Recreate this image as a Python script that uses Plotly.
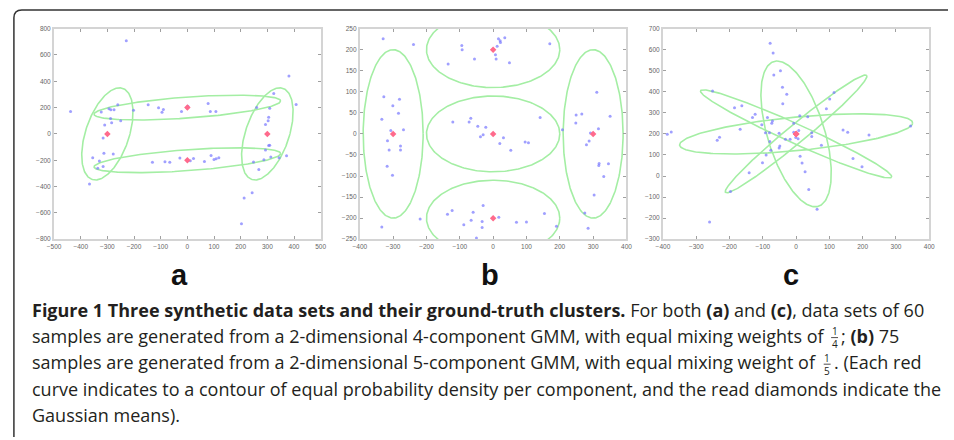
import numpy as np
import plotly.graph_objects as go

W, H = 954, 440

# ---------------- data ----------------
# Panel a
A_X = [-438, -229, -323, -294, -287, -275, -261, -288, -284, -250, -310, -316, -313, -278, -355, -330, -316, -336, -367,
       -202, -147, -108, -90, -95, -22, 2, -1, 78, 86, 107,
       -131, -84, -66, -28, 11, 23, 64, 89, 100, 108, 118,
       260, 309, 305, 303, 324, 381, 408, 293, 305, 309, 293, 313, 287, 344, 372, 248, 268, 243, 213, 203]
A_Y = [171, 708, 166, 191, 184, 184, 221, 117, 84, 99, 67, -32, -147, -152, -181, -206, -248, -261, -380,
       179, 221, 199, 186, 164, 171, 211, 196, 231, 171, 171,
       -216, -211, -216, -184, -204, -186, -209, -164, -194, -189, -181,
       201, 194, 127, 99, 306, 440, 224, 72, -89, -87, -122, -176, -196, -181, -166, -214, -271, -447, -487, -683]
A_MX = [-300, 300, 0, 0]
A_MY = [0, 0, 200, -200]
# ellipse: centre + L-matrix [l11, l12, l21, l22]
A_EL = [(-300, 0, 85, 45, 0, 350), (300, 0, 85, 46, 0, 350),
        (0, 200, 350, 0, 50, 80), (0, -200, 350, 0, 50, 80)]

# Panel b
B_X = [-330, -239, -94, -93, -56, -135, 16, 21, 22, 35, 12, 7, 9, 49, 170,
       -328, -281, -301, -284, -334, -307, -269, -317, -312, -278, -278, -318, -302, -334, -219,
       -121, -72, -67, -46, -22, -30, -38, 31, 20, 53, 96, 106, 141,
       208, 249, 266, 248, 311, 316, 351, 292, 288, 280, 318, 317, 346, 332, 303, 275, 285,
       -137, -123, -88, -60, -66, -30, -33, -33, -50, 17, 70, 100, 154, 190]
B_Y = [226, 212, 210, 200, 178, 166, 226, 221, 217, 228, 208, 188, 178, 169, 214,
       88, 82, 67, 49, 35, 8, 10, -16, -38, -29, -38, -77, -98, -221, -202,
       28, 28, 37, 18, 16, -2, -7, -9, -23, -39, -19, -21, 39,
       10, 45, 47, 26, 99, 12, 42, 2, -17, -26, -70, -75, -71, -101, -145, -188, -224,
       -191, -182, -216, -186, -205, -170, -208, -222, -247, -198, -210, -209, -189, -219]
B_MX = [-300, 300, 0, 0, 0]
B_MY = [0, 0, 0, 200, -200]
B_EL = [(-300, 0, 90, 0, 0, 200), (300, 0, 90, 0, 0, 200), (0, 0, 200, 0, 0, 90),
        (0, 200, 200, 0, 0, 90), (0, -200, 200, 0, 0, 90)]

# Panel c
C_X = [-387, -375, -251, -237, -230, -185, -163, -168, -131, -123, -141, -197, -260,
       -78, -69, -67, -47, -41, -28, -40, -103, -86, -73, -71, -92, -80, -51, -79, -90, -101, -76, -49, -51,
       -32, -18, -7, -1, 8, 6, 11, -7, 35, 47, 47, 12, 18, 27, 38, 63, 76, 91, 101, 114, 141, 155, 171, 198, 219, 344]
C_Y = [198, 209, 404, 170, 184, 324, 334, 222, 278, 293, 15, -74, -218,
       631, 584, 480, 500, 421, 388, 343, 244, 278, 251, 261, 206, 206, 203, 164, 100, 63, 122, 142, 133,
       175, 175, 208, 183, 216, 177, 286, 250, 282, 205, 188, 94, 62, 20, -64, -158, 146, 320, 366, 396, 219, 208, 83, 44, 195, 237]
C_MX = [0, 0, 0, 0]
C_MY = [200, 200, 200, 200]
C_EL = [(0, 200, 350, 0, 52, 80), (0, 200, 287, 12, -205, 42),
        (0, 200, 212, 18, 278, -33), (0, 200, -57, 89, 346, 0)]

PANELS = [
    dict(x=A_X, y=A_Y, mx=A_MX, my=A_MY, el=A_EL, xr=[-500, 500], yr=[-800, 800], dx=100, dy=200, label="a"),
    dict(x=B_X, y=B_Y, mx=B_MX, my=B_MY, el=B_EL, xr=[-400, 400], yr=[-250, 250], dx=100, dy=50, label="b"),
    dict(x=C_X, y=C_Y, mx=C_MX, my=C_MY, el=C_EL, xr=[-400, 400], yr=[-300, 700], dx=100, dy=100, label="c"),
]

# ---------------- layout geometry (pixels) ----------------
PLOT_X = [(47.7, 318.0), (357.7, 628.0), (665.0, 935.0)]
PLOT_Y = (25.0, 239.0)
LABEL_X = [175, 489.5, 795]
LABEL_Y = 275

fig = go.Figure()
t = np.linspace(0, 2 * np.pi, 240)

for i, p in enumerate(PANELS):
    xa = "x" if i == 0 else f"x{i+1}"
    ya = "y" if i == 0 else f"y{i+1}"
    for (cx, cy, l11, l12, l21, l22) in p["el"]:
        fig.add_trace(go.Scatter(x=cx + l11 * np.cos(t) + l12 * np.sin(t),
                                 y=cy + l21 * np.cos(t) + l22 * np.sin(t),
                                 mode="lines", line=dict(color="#a4eea4", width=1.6),
                                 xaxis=xa, yaxis=ya, hoverinfo="skip", showlegend=False))
    fig.add_trace(go.Scatter(x=p["x"], y=p["y"], mode="markers",
                             marker=dict(color="rgba(120,120,255,0.7)", size=3),
                             xaxis=xa, yaxis=ya, showlegend=False, cliponaxis=True))
    fig.add_trace(go.Scatter(x=p["mx"], y=p["my"], mode="markers",
                             marker=dict(color="#ff6a8c", size=5, symbol="diamond"),
                             xaxis=xa, yaxis=ya, showlegend=False))

    x0, x1 = PLOT_X[i]
    common = dict(showgrid=False, zeroline=False, showline=True, linecolor="#d4d4d4", linewidth=2,
                  mirror="allticks", ticks="inside", ticklen=3, tickcolor="#a0a0a0", tickwidth=1,
                  tickfont=dict(family="Liberation Sans, Arial", size=6.5, color="#666"))
    xkey = "xaxis" if i == 0 else f"xaxis{i+1}"
    ykey = "yaxis" if i == 0 else f"yaxis{i+1}"
    fig.update_layout({
        xkey: dict(domain=[x0 / W, x1 / W], range=p["xr"], dtick=p["dx"], tick0=0,
                   anchor=ya, **common),
        ykey: dict(domain=[1 - PLOT_Y[1] / H, 1 - PLOT_Y[0] / H], range=p["yr"], dtick=p["dy"], tick0=0,
                   anchor=xa, **common),
    })
    fig.add_annotation(x=LABEL_X[i] / W, y=1 - LABEL_Y / H, xref="paper", yref="paper",
                       text=f"<b>{p['label']}</b>", showarrow=False, xanchor="center", yanchor="middle",
                       font=dict(family="Liberation Sans, Arial", size=29, color="#111"))

# ---------------- caption ----------------
CAP_FONT = dict(family="Open Sans", size=18, color="#231f20")
# each line: list of (text, x_left_px) segments
CAPTION = [
    [("<b>Figure 1 Three synthetic data sets and their ground-truth clusters.</b> For both <b>(a)</b> and <b>(c)</b>, data sets of 60", 24)],
    [("samples are generated from a 2-dimensional 4-component GMM, with equal mixing weights of", 24),
     ("; <b>(b)</b> 75", 845)],
    [("samples are generated from a 2-dimensional 5-component GMM, with equal mixing weight of", 24),
     (". (Each red", 837)],
    [("curve indicates to a contour of equal probability density per component, and the read diamonds indicate the", 24)],
    [("Gaussian means).", 24)],
]
CAP_Y = [311, 337, 364, 391, 418]
# stacked fractions: (numerator, denominator, centre x px, line index)
FRACTIONS = [("1", "4", 839, 1), ("1", "5", 831.5, 2)]

for segs, yy in zip(CAPTION, CAP_Y):
    for text, xl in segs:
        fig.add_annotation(x=xl / W, y=1 - yy / H, xref="paper", yref="paper", text=text, showarrow=False,
                           xanchor="left", yanchor="middle", align="left", font=CAP_FONT, borderpad=0)

for num, den, fx, li in FRACTIONS:
    yb = CAP_Y[li] + 2
    fig.add_annotation(x=fx / W, y=1 - yb / H, xref="paper", yref="paper", text=f"{num}<br>{den}",
                       showarrow=False, xanchor="center", yanchor="middle", align="center", borderpad=0,
                       font=dict(family="Open Sans", size=10, color="#231f20"))
    fig.add_shape(type="line", xref="paper", yref="paper", x0=(fx - 3.5) / W, x1=(fx + 3.5) / W,
                  y0=1 - yb / H, y1=1 - yb / H, line=dict(color="#231f20", width=0.8))

# ---------------- frame ----------------
bx, by, r = 7 / W, 1 - 6 / H, 8
fig.add_shape(type="path", xref="paper", yref="paper",
              path=f"M {bx},0 L {bx},{by - r / H} Q {bx},{by} {bx + r / W},{by} L 1,{by}",
              line=dict(color="#333", width=1.5))

fig.update_layout(width=W, height=H, margin=dict(l=0, r=0, t=0, b=0),
                  paper_bgcolor="white", plot_bgcolor="white", showlegend=False)
fig.write_html("out.html")
